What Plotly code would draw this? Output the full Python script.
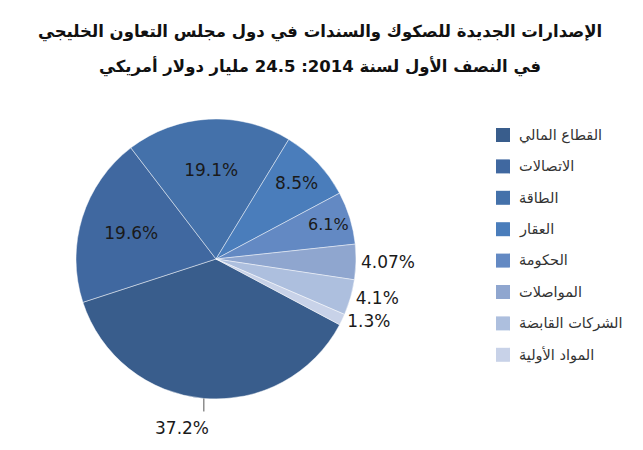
import math
import plotly.graph_objects as go

labels = ["القطاع المالي", "الاتصالات", "الطاقة", "العقار", "الحكومة",
          "المواصلات", "الشركات القابضة", "المواد الأولية"]
values = [37.2, 19.6, 19.1, 8.5, 6.1, 4.07, 4.1, 1.3]
colors = ["#395d8c", "#4068a0", "#4471aa", "#4a7dbb", "#6389c3",
          "#8fa6cf", "#adbfde", "#c8d2e8"]
text_pos = ["none", "inside", "inside", "inside", "inside",
            "outside", "outside", "outside"]
title_lines = ["الإصدارات الجديدة للصكوك والسندات في دول مجلس التعاون الخليجي",
               "في النصف الأول لسنة 2014: 24.5 مليار دولار أمريكي"]

W, H = 643, 450
CX, CY, R = 216, 259, 140
ROT = 118
LABEL_FONT = dict(family="DejaVu Sans", size=17, color="#1a1a1a")

fig = go.Figure()
fig.add_trace(go.Pie(
    labels=labels, values=values, sort=False, direction="clockwise",
    rotation=ROT,
    marker=dict(colors=colors, line=dict(color="rgba(255,255,255,0.45)", width=1)),
    texttemplate="%{value}%", textposition=text_pos,
    insidetextorientation="horizontal",
    textfont=LABEL_FONT,
    domain=dict(x=[(CX - R) / W, (CX + R) / W],
                y=[(H - CY - R) / H, (H - CY + R) / H]),
    showlegend=False, hoverinfo="skip",
))

# outside label with leader line for the first (largest) slice
total = sum(values)
mid = math.radians(ROT + 360 * values[0] / total / 2)
ex, ey = CX + R * math.sin(mid), CY - R * math.cos(mid)
fig.add_shape(type="line", xref="paper", yref="paper",
              x0=ex / W, x1=ex / W, y0=1 - ey / H, y1=1 - (ey + 13) / H,
              line=dict(color="#555", width=1))
fig.add_annotation(text=f"{values[0]}%", x=(ex - 22) / W, y=1 - (ey + 30) / H,
                   xref="paper", yref="paper", xanchor="center", yanchor="middle",
                   showarrow=False, font=LABEL_FONT)

# title
for i, line in enumerate(title_lines):
    fig.add_annotation(text="<b>" + line + "</b>", x=320 / W, y=1 - (32 + 35 * i) / H,
                       xref="paper", yref="paper", xanchor="center", yanchor="middle",
                       showarrow=False, font=dict(family="DejaVu Sans", size=16.5, color="#111"))

# manual legend
for i, (lab, col) in enumerate(zip(labels, colors)):
    cy = 135 + 31.4 * i
    fig.add_shape(type="rect", xref="paper", yref="paper",
                  x0=496 / W, x1=510 / W, y0=1 - (cy - 7) / H, y1=1 - (cy + 7) / H,
                  fillcolor=col, line=dict(width=0))
    fig.add_annotation(text=lab, x=517 / W, y=1 - cy / H, xref="paper", yref="paper",
                       xanchor="left", yanchor="middle", showarrow=False,
                       font=dict(family="DejaVu Sans", size=14.5, color="#333"))

fig.update_layout(width=W, height=H, margin=dict(l=0, r=0, t=0, b=0),
                  paper_bgcolor="white", plot_bgcolor="white")
fig.write_html("out.html")
